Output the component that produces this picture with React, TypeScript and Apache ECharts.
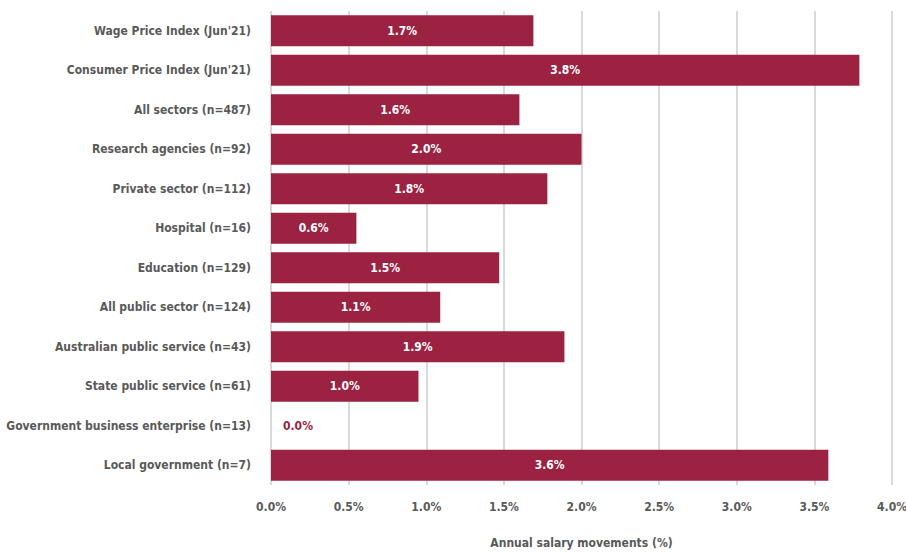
import React, { useEffect, useRef } from "react";
import * as echarts from "echarts";

const categories = [
  "Wage Price Index (Jun'21)",
  "Consumer Price Index (Jun'21)",
  "All sectors (n=487)",
  "Research agencies (n=92)",
  "Private sector (n=112)",
  "Hospital (n=16)",
  "Education (n=129)",
  "All public sector (n=124)",
  "Australian public service (n=43)",
  "State public service (n=61)",
  "Government business enterprise (n=13)",
  "Local government (n=7)",
];
const values = [1.69, 3.79, 1.6, 2.0, 1.78, 0.55, 1.47, 1.09, 1.89, 0.95, 0, 3.59];
const valueLabels = ["1.7%", "3.8%", "1.6%", "2.0%", "1.8%", "0.6%", "1.5%", "1.1%", "1.9%", "1.0%", "0.0%", "3.6%"];

const FONT = "'DejaVu Sans Condensed', 'DejaVu Sans', sans-serif";
const WEIGHT = "bold";
const SIZE = 12;
const RED = "#9c2242";
const GREY = "#595959";

export default function App() {
  const ref = useRef<HTMLDivElement>(null);
  useEffect(() => {
    if (!ref.current) return;
    const chart = echarts.init(ref.current, null, { renderer: "svg" });
    chart.setOption({
      animation: false,
      textStyle: { fontFamily: FONT },
      grid: { left: 271, right: 14, top: 11, bottom: 67, containLabel: false, outerBoundsMode: "none" },
      xAxis: {
        type: "value",
        min: 0,
        max: 4,
        interval: 0.5,
        name: "Annual salary movements (%)",
        nameLocation: "middle",
        nameGap: 52,
        nameTextStyle: { color: GREY, fontSize: SIZE, fontWeight: WEIGHT, fontFamily: FONT },
        axisLine: { show: false },
        axisTick: { show: false },
        axisLabel: {
          color: GREY,
          fontSize: SIZE,
          fontWeight: WEIGHT,
          fontFamily: FONT,
          margin: 16,
          formatter: (v: number) => v.toFixed(1) + "%",
        },
        splitLine: { show: true, lineStyle: { color: "#d9d9d9", width: 2 } },
      },
      yAxis: {
        type: "category",
        data: categories,
        inverse: true,
        axisLine: { show: false },
        axisTick: { show: false },
        axisLabel: {
          color: GREY,
          fontSize: SIZE,
          fontWeight: WEIGHT,
          fontFamily: FONT,
          margin: 20,
        },
      },
      series: [
        {
          type: "bar",
          data: values.map((v) => ({
            value: v,
            label: v === 0 ? { position: "right", color: RED, distance: 12 } : undefined,
          })),
          barCategoryGap: "22%",
          itemStyle: { color: RED },
          label: {
            show: true,
            position: "inside",
            color: "#ffffff",
            fontSize: SIZE,
            fontWeight: WEIGHT,
            fontFamily: FONT,
            formatter: (p: any) => valueLabels[p.dataIndex],
          },
        },
      ],
    });
    return () => chart.dispose();
  }, []);
  return (
    <div
      ref={ref}
      style={{ position: "absolute", left: 0, top: 0, width: 906, height: 552 }}
    />
  );
}
